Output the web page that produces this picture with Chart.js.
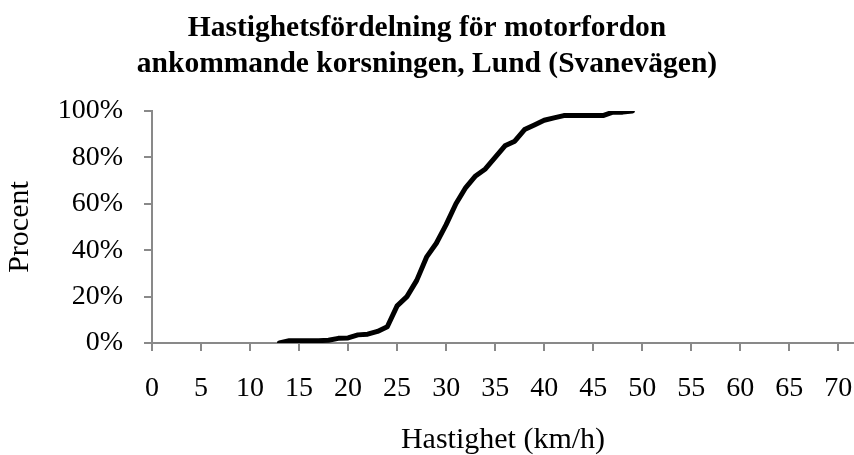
<!DOCTYPE html>
<html>
<head>
<meta charset="utf-8">
<script src="https://cdn.jsdelivr.net/npm/chart.js@4/dist/chart.umd.min.js"></script>
<style>
    html, body { margin: 0; padding: 0; background: #fff; }
    #wrap { width: 854px; height: 455px; }
</style>
</head>
<body>
<div id="wrap"><canvas id="speedChart"></canvas></div>
<script>
// hastighet (km/h) och kumulativ andel (%)
const speeds = [13, 14, 15, 16, 17, 18, 19, 20, 21, 22, 23, 24, 25, 26, 27, 28, 29, 30, 31,
    32, 33, 34, 35, 36, 37, 38, 39, 40, 41, 42, 43, 44, 45, 46, 47, 48, 49];
const percent = [0, 1, 1, 1, 1, 1.2, 2, 2.2, 3.5, 3.8, 5, 7, 16, 20, 27, 37, 43, 51, 60,
    67, 72, 75, 80, 85, 87, 92, 94, 96, 97, 98, 98, 98, 98, 98, 99.5, 99.5, 100];
const xTicks = [0, 5, 10, 15, 20, 25, 30, 35, 40, 45, 50, 55, 60, 65, 70];
const yTicks = [0, 20, 40, 60, 80, 100];

const titleLines = ['Hastighetsfördelning för motorfordon', 'ankommande korsningen, Lund (Svanevägen)'];

const serif = "'Liberation Serif', 'Times New Roman', serif";
const axisGray = '#898989';

const points = speeds.map((s, i) => ({ x: s, y: percent[i] }));

const ctx = document.getElementById('speedChart');

new Chart(ctx, {
    type: 'line',
    data: {
        datasets: [{
            label: 'Procent',
            data: points,
            borderColor: '#000000',
            borderWidth: 5,
            pointRadius: 0,
            tension: 0,
            borderJoinStyle: 'round',
            borderCapStyle: 'round',
            fill: false
        }]
    },
    options: {
        responsive: true,
        maintainAspectRatio: false,
        animation: false,
        layout: { padding: 0 },
        plugins: {
            legend: { display: false },
            tooltip: { enabled: false },
            title: {
                display: true,
                text: titleLines,
                color: '#000',
                font: { family: serif, size: 29.5, weight: 'bold', lineHeight: 1.22 },
                padding: { top: 10, bottom: 29 }
            }
        },
        scales: {
            x: {
                type: 'linear',
                min: 0,
                max: 71.6,
                afterFit: (scale) => {
                    scale.height = 112;
                    scale.paddingRight = 0;
                },
                afterBuildTicks: (scale) => {
                    scale.ticks = xTicks.map(v => ({ value: v }));
                },
                ticks: {
                    color: '#000',
                    font: { family: serif, size: 28 },
                    padding: 21,
                    maxRotation: 0,
                    autoSkip: false
                },
                grid: {
                    drawOnChartArea: false,
                    drawTicks: true,
                    tickLength: 8,
                    color: axisGray,
                    lineWidth: 2
                },
                border: { color: axisGray, width: 2 },
                title: {
                    display: true,
                    text: 'Hastighet (km/h)',
                    color: '#000',
                    font: { family: serif, size: 30, lineHeight: 1 },
                    padding: 0
                }
            },
            y: {
                min: 0,
                max: 100,
                afterFit: (scale) => { scale.width = 152; },
                afterBuildTicks: (scale) => {
                    scale.ticks = yTicks.map(v => ({ value: v }));
                },
                ticks: {
                    color: '#000',
                    font: { family: serif, size: 28 },
                    padding: 21,
                    callback: (v) => v + '%'
                },
                grid: {
                    drawOnChartArea: false,
                    drawTicks: true,
                    tickLength: 8,
                    color: axisGray,
                    lineWidth: 2
                },
                border: { color: axisGray, width: 2 },
                title: {
                    display: true,
                    text: 'Procent',
                    color: '#000',
                    font: { family: serif, size: 30, lineHeight: 1.2 },
                    padding: { top: 2, bottom: 0 }
                }
            }
        }
    }
});
</script>
</body>
</html>
